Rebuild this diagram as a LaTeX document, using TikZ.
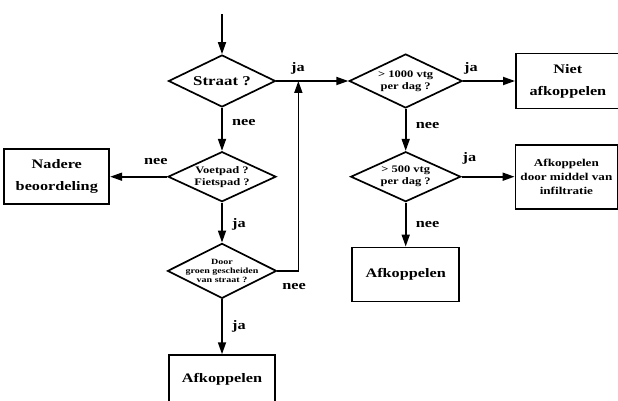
\documentclass[tikz,border=0pt]{standalone}
\usepackage{fontspec}
\setmainfont{Liberation Serif}[FakeStretch=1.25]
\usetikzlibrary{positioning,arrows.meta,shapes.geometric}

\begin{document}
\begin{tikzpicture}[>={Triangle[length=12pt,width=8pt]}, line width=1.7pt,
    every node/.style={align=center},
    question/.style={draw, diamond, aspect=2, inner sep=0pt, font=\fontsize{10}{12}\selectfont\bfseries},
    outcome/.style={draw, rectangle, inner sep=0pt, font=\fontsize{13}{22}\selectfont\bfseries},
    answer/.style={font=\fontsize{13}{15}\selectfont\bfseries}]
    \useasboundingbox (0,0) rectangle (618pt,-401pt);

    % left column
    \node[question, minimum width=107pt, minimum height=52pt, font=\fontsize{13.5}{16}\selectfont\bfseries] (straat) at (222pt,-81pt) {Straat ?};
    \node[question, below=43pt of straat, minimum width=108pt, minimum height=50pt] (voetpad) {Voetpad ?\\Fietspad ?};
    \node[question, below=40pt of voetpad, minimum width=109pt, minimum height=55pt, inner sep=-5pt, font=\fontsize{8}{9}\selectfont\bfseries] (groen) {Door\\groen gescheiden\\van straat ?};
    \node[outcome, left=57pt of voetpad, minimum width=105pt, minimum height=55pt] (nadere) {Nadere\\beoordeling};
    \node[outcome, below=55pt of groen, minimum width=106pt, minimum height=49pt] (afkA) {Afkoppelen};

    % right column
    \node[question, right=72pt of straat, minimum width=113pt, minimum height=54pt] (dag1000) {> 1000 vtg\\per dag ?};
    \node[outcome, right=52pt of dag1000, minimum width=104pt, minimum height=55pt] (niet) {Niet\\afkoppelen};
    \node[question, below=42pt of dag1000, minimum width=110pt, minimum height=50pt] (dag500) {> 500 vtg\\per dag ?};
    \node[outcome, right=53pt of dag500, minimum width=102pt, minimum height=64pt, font=\fontsize{10.5}{14}\selectfont\bfseries] (infil) {Afkoppelen\\door middel van\\infiltratie};
    \node[outcome, below=44pt of dag500, minimum width=107pt, minimum height=54pt] (afkB) {Afkoppelen};

    \coordinate[above=40pt of straat] (start);
    \coordinate[right=22pt of straat] (merge);

    \draw[->] (start) -- (straat);
    \draw[->] (straat) -- node[answer, above=3pt, pos=0.3] {ja} (dag1000);
    \draw[->] (straat) -- node[answer, right=6pt, pos=0.35] {nee} (voetpad);
    \draw[->] (voetpad) -- node[answer, above=8pt, pos=0.2] {nee} (nadere);
    \draw[->] (voetpad) -- node[answer, right=6pt, pos=0.55] {ja} (groen);
    \draw[->] (groen) -| node[answer, below=8pt, pos=0.4] {nee} (merge);
    \draw[->] (groen) -- node[answer, right=6pt, pos=0.5] {ja} (afkA);
    \draw[->] (dag1000) -- node[answer, above=3pt, pos=0.15] {ja} (niet);
    \draw[->] (dag1000) -- node[answer, right=6pt, pos=0.4] {nee} (dag500);
    \draw[->] (dag500) -- node[answer, above=8pt, pos=0.15] {ja} (infil);
    \draw[->] (dag500) -- node[answer, right=6pt, pos=0.5] {nee} (afkB);
\end{tikzpicture}
\end{document}
